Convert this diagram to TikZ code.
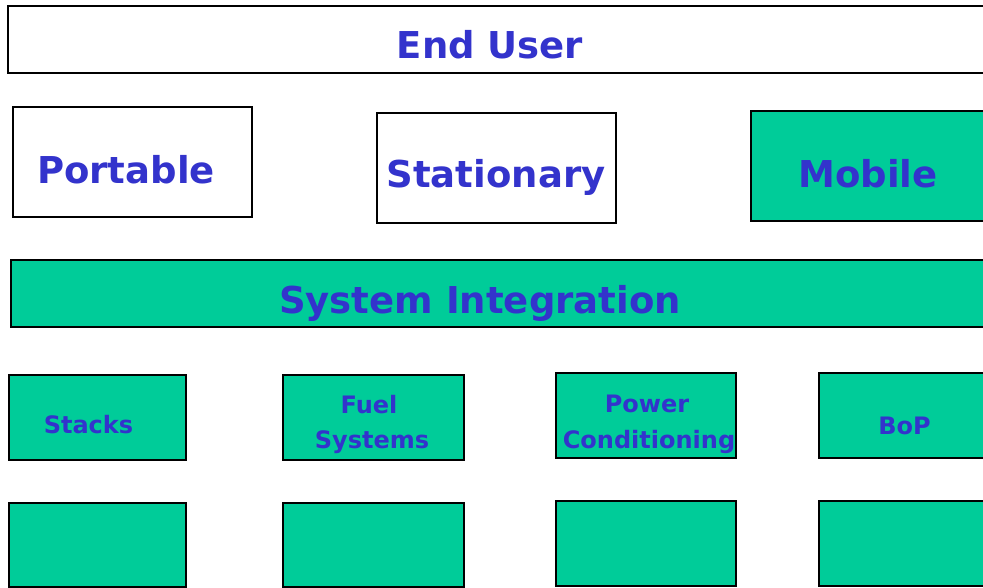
\documentclass[tikz,border=0pt]{standalone}
\usepackage{fontspec}
\setmainfont{DejaVu Sans}
\definecolor{panelgreen}{HTML}{00CC99}
\definecolor{labelblue}{HTML}{3333CC}
\tikzset{
  box/.style={draw=black, line width=2.5pt, inner sep=0pt},
  plain/.style={box, fill=white},
  filled/.style={box, fill=panelgreen},
  bigtext/.style={text=labelblue, font=\bfseries\fontsize{37}{40}\selectfont, inner sep=0pt, anchor=base},
  smalltext/.style={text=labelblue, font=\bfseries\fontsize{24}{30}\selectfont, inner sep=0pt, anchor=base},
}
\newcommand{\panel}[6]{% style, name, x1, y1, x2, y2
  \node[#1, minimum width={#5-#3}, minimum height={#6-#4}] (#2) at ({(#3+#5)/2},{(#4+#6)/2}) {};}
\begin{document}
\begin{tikzpicture}[x=1pt, y=-1pt]
  \useasboundingbox (0,0) rectangle (983,588);
  \clip (0,0) rectangle (983,588);

  % top tier
  \panel{plain}{enduser}{8}{6}{995}{73}
  \node[bigtext] (enduserlbl) at (490,59) {End User};

  % application tier
  \panel{plain}{portable}{13}{107}{252}{217}
  \node[bigtext] (portablelbl) at (126,184) {Portable};
  \panel{plain}{stationary}{377}{113}{616}{223}
  \node[bigtext] (stationarylbl) at (496,188) {Stationary};
  \panel{filled}{mobile}{751}{111}{995}{221}
  \node[bigtext] (mobilelbl) at (868,188) {Mobile};

  % integration tier
  \panel{filled}{sysint}{11}{260}{995}{327}
  \node[bigtext] (sysintlbl) at (480,313) {System Integration};

  % component tier
  \panel{filled}{stacks}{9}{375}{186}{460}
  \node[smalltext] (stackslbl) at (88.5,433) {Stacks};
  \panel{filled}{fuel}{283}{375}{464}{460}
  \node[smalltext] (fuellblA) at (369,413) {Fuel};
  \node[smalltext] (fuellblB) at (372,448) {Systems};
  \panel{filled}{power}{556}{373}{736}{458}
  \node[smalltext] (powerlblA) at (647,412) {Power};
  \node[smalltext] (powerlblB) at (649,448) {Conditioning};
  \panel{filled}{bop}{819}{373}{995}{458}
  \node[smalltext] (boplbl) at (904.5,434) {BoP};

  % empty bottom tier
  \panel{filled}{blankA}{9}{503}{186}{587}
  \panel{filled}{blankB}{283}{503}{464}{587}
  \panel{filled}{blankC}{556}{501}{736}{586}
  \panel{filled}{blankD}{819}{501}{995}{586}
\end{tikzpicture}
\end{document}
